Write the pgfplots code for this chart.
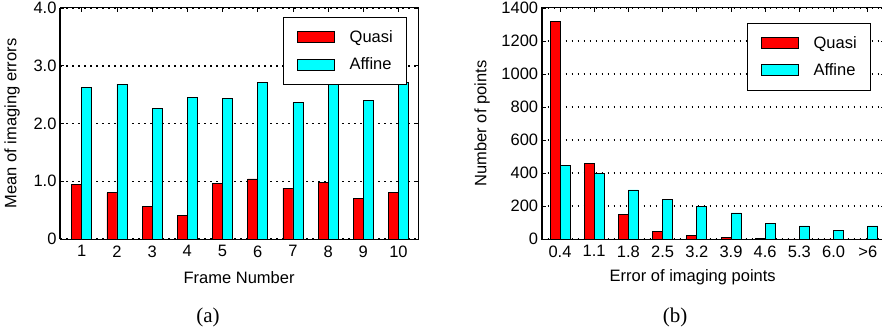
\documentclass[border=0pt]{standalone}
\usepackage{fontspec}
\setmainfont{Liberation Sans}
\newfontfamily\capfont{Liberation Serif}
\usepackage{pgfplots}
\pgfplotsset{compat=1.18}
\definecolor{qred}{RGB}{255,0,0}
\definecolor{acyan}{RGB}{0,255,255}

\pgfplotstableread{
x quasi affine
1 0.95 2.62
2 0.80 2.68
3 0.56 2.26
4 0.41 2.45
5 0.96 2.44
6 1.04 2.71
7 0.88 2.36
8 0.98 2.67
9 0.71 2.40
10 0.80 2.71
}\tablea

\pgfplotstableread{
x quasi affine
0 1320 444
1 458 398
2 151 297
3 46 238
4 20 198
5 12 158
6 5 95
7 0 79
8 0 50
9 0 79
}\tableb

\pgfplotsset{
  mybars/.style={
    scale only axis,
    ybar=0pt, bar width=10pt,
    height=231pt,
    clip=false,
    axis line style={black, line width=1pt},
    tick align=inside,
    major tick length=4pt,
    tick style={black, line width=0.8pt},
    ymajorgrids,
    major grid style={black, line width=1.5pt, dash pattern=on 1.5pt off 4.5pt},
    xtick=data,
    tick label style={font=\fontsize{16.5}{20}\selectfont},
    xticklabel style={yshift=-3pt},
    label style={font=\fontsize{16.5}{20}\selectfont},
    legend style={draw=black, fill=white, line width=0.6pt,
      font=\fontsize{16.5}{20}\selectfont,
      inner xsep=14pt, inner ysep=13pt, row sep=14pt,
      nodes={inner sep=0pt},
      /tikz/every odd column/.append style={column sep=15pt}},
    legend cell align=left,
  },
  swatch/.style={legend image code/.code={\draw[##1] (0pt,-5.5pt) rectangle (37pt,5.5pt);}},
}

\begin{document}
\begin{tikzpicture}
\useasboundingbox (0,0) rectangle (882pt,335pt);
\begin{axis}[mybars,
  at={(60pt,96pt)}, anchor=south west,
  width=358.2pt,
  xmin=0.383, xmax=10.56,
  ymin=0, ymax=4,
  ytick={0,1,2,3,4},
  yticklabels={0,1.0,2.0,3.0,4.0},
  xticklabels={1,2,3,4,5,6,7,8,9,10},
  xlabel={Frame Number},
  ylabel={Mean of imaging errors},
  xlabel style={at={(axis description cs:0.5,-0.1667)}, anchor=center},
  ylabel style={at={(axis description cs:-0.134,0.5)}, anchor=center},
  legend style={at={(0.969,0.961)}, anchor=north east},
]
\addplot[fill=qred, draw=black, line width=0.7pt, swatch] table[x=x,y=quasi]{\tablea};
\addplot[fill=acyan, draw=black, line width=0.7pt, swatch] table[x=x,y=affine]{\tablea};
\legend{Quasi,Affine}
\draw[black, line width=1.8pt] (rel axis cs:0,0) -- (rel axis cs:0,1);
\end{axis}

\begin{axis}[mybars,
  at={(541.7pt,96pt)}, anchor=south west,
  width=343.2pt,
  xmin=-0.535, xmax=9.5,
  ymin=0, ymax=1400,
  ytick={0,200,400,600,800,1000,1200,1400},
  yticklabels={0,200,400,600,800,1000,1200,1400},
  xticklabels={0.4,1.1,1.8,2.5,3.2,3.9,4.6,5.3,6.0,>6},
  xlabel={Error of imaging points},
  ylabel={Number of points},
  xlabel style={at={(axis description cs:0.44,-0.1667)}, anchor=center},
  ylabel style={at={(axis description cs:-0.174,0.5)}, anchor=center},
  legend style={at={(0.9595,0.936)}, anchor=north east},
]
\addplot[fill=qred, draw=black, line width=0.7pt, swatch] table[x=x,y=quasi]{\tableb};
\addplot[fill=acyan, draw=black, line width=0.7pt, swatch] table[x=x,y=affine]{\tableb};
\legend{Quasi,Affine}
\draw[black, line width=1.8pt] (rel axis cs:0,0) -- (rel axis cs:0,1);
\end{axis}

\node[font=\capfont\fontsize{21}{24}\selectfont] at (208pt,18pt) {(a)};
\node[font=\capfont\fontsize{21}{24}\selectfont] at (675pt,18pt) {(b)};
\end{tikzpicture}
\end{document}
